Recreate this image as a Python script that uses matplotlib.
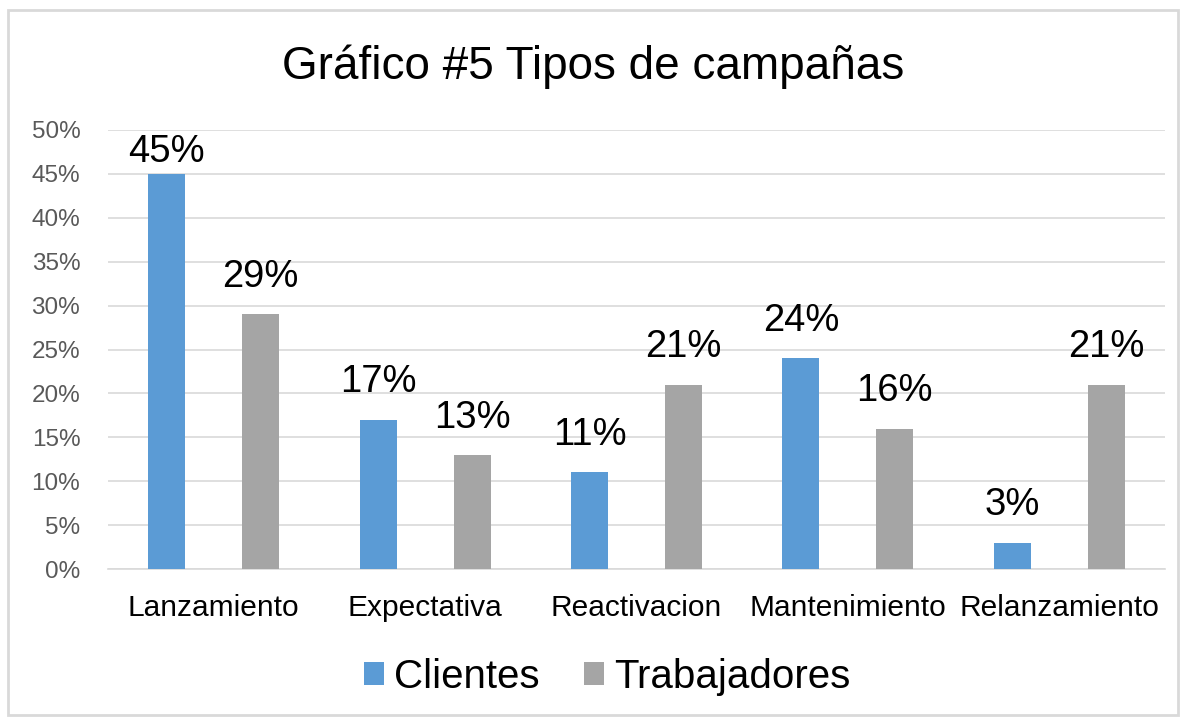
import numpy as np
import matplotlib
matplotlib.use('Agg')
import matplotlib.pyplot as plt
from matplotlib.patches import Rectangle

categories = ['Lanzamiento', 'Expectativa', 'Reactivacion', 'Mantenimiento', 'Relanzamiento']
clientes = [45, 17, 11, 24, 3]
trabajadores = [29, 13, 21, 16, 21]
series_names = ['Clientes', 'Trabajadores']
yticks = [0, 5, 10, 15, 20, 25, 30, 35, 40, 45, 50]


def main():
    plt.rcParams['font.family'] = ['Liberation Sans', 'DejaVu Sans']
    fig = plt.figure(figsize=(11.86, 7.19), dpi=100)
    ax = fig.add_axes([0.0911, 0.2086, 0.8912, 0.6106])

    x = np.arange(len(categories))
    w = 0.175
    off = 0.222
    b1 = ax.bar(x - off, clientes, w, color='#5B9BD5', label=series_names[0], zorder=3)
    b2 = ax.bar(x + off, trabajadores, w, color='#A5A5A5', label=series_names[1], zorder=3)

    for xs, vals in [(x - off, clientes), (x + off, trabajadores)]:
        for xi, v in zip(xs, vals):
            y = v + 2.2
            if y + 3.3 > 50:
                y = v + 0.5
            ax.text(xi, y, '{}%'.format(v), ha='center', va='bottom',
                    fontsize=27.5, color='black', zorder=4)

    ax.set_xlim(-0.5, len(categories) - 0.5)
    ax.set_ylim(0, 50)
    ax.set_yticks(yticks)
    ax.set_yticklabels(['{}%'.format(t) for t in yticks])
    ax.set_xticks(x)
    ax.set_xticklabels(categories)
    ax.tick_params(axis='y', length=0, pad=20, labelsize=17.5, labelcolor='#595959')
    ax.tick_params(axis='x', length=0, pad=18, labelsize=21.5, labelcolor='black')
    ax.grid(axis='y', color='#d9d9d9', linewidth=1.2, zorder=0)
    for s in ['top', 'right', 'left']:
        ax.spines[s].set_visible(False)
    ax.spines['bottom'].set_color('#d9d9d9')
    ax.spines['bottom'].set_linewidth(1.2)

    fig.text(0.5, 1 - 67 / 719, 'Gráfico #5 Tipos de campañas', ha='center', va='center',
             fontsize=33, color='black')

    fig.legend(handles=[b1, b2], loc='center', bbox_to_anchor=(0.512, 1 - 677 / 719),
               ncol=2, frameon=False, fontsize=29, handlelength=0.5, handleheight=0.5,
               handletextpad=0.25, columnspacing=1.1)

    fig.patches.append(Rectangle((8 / 1186, 4 / 719), 1170 / 1186, 705 / 719,
                                 transform=fig.transFigure, fill=False,
                                 edgecolor='#d9d9d9', linewidth=2))

    fig.savefig('out.png', dpi=100)


if __name__ == '__main__':
    main()
